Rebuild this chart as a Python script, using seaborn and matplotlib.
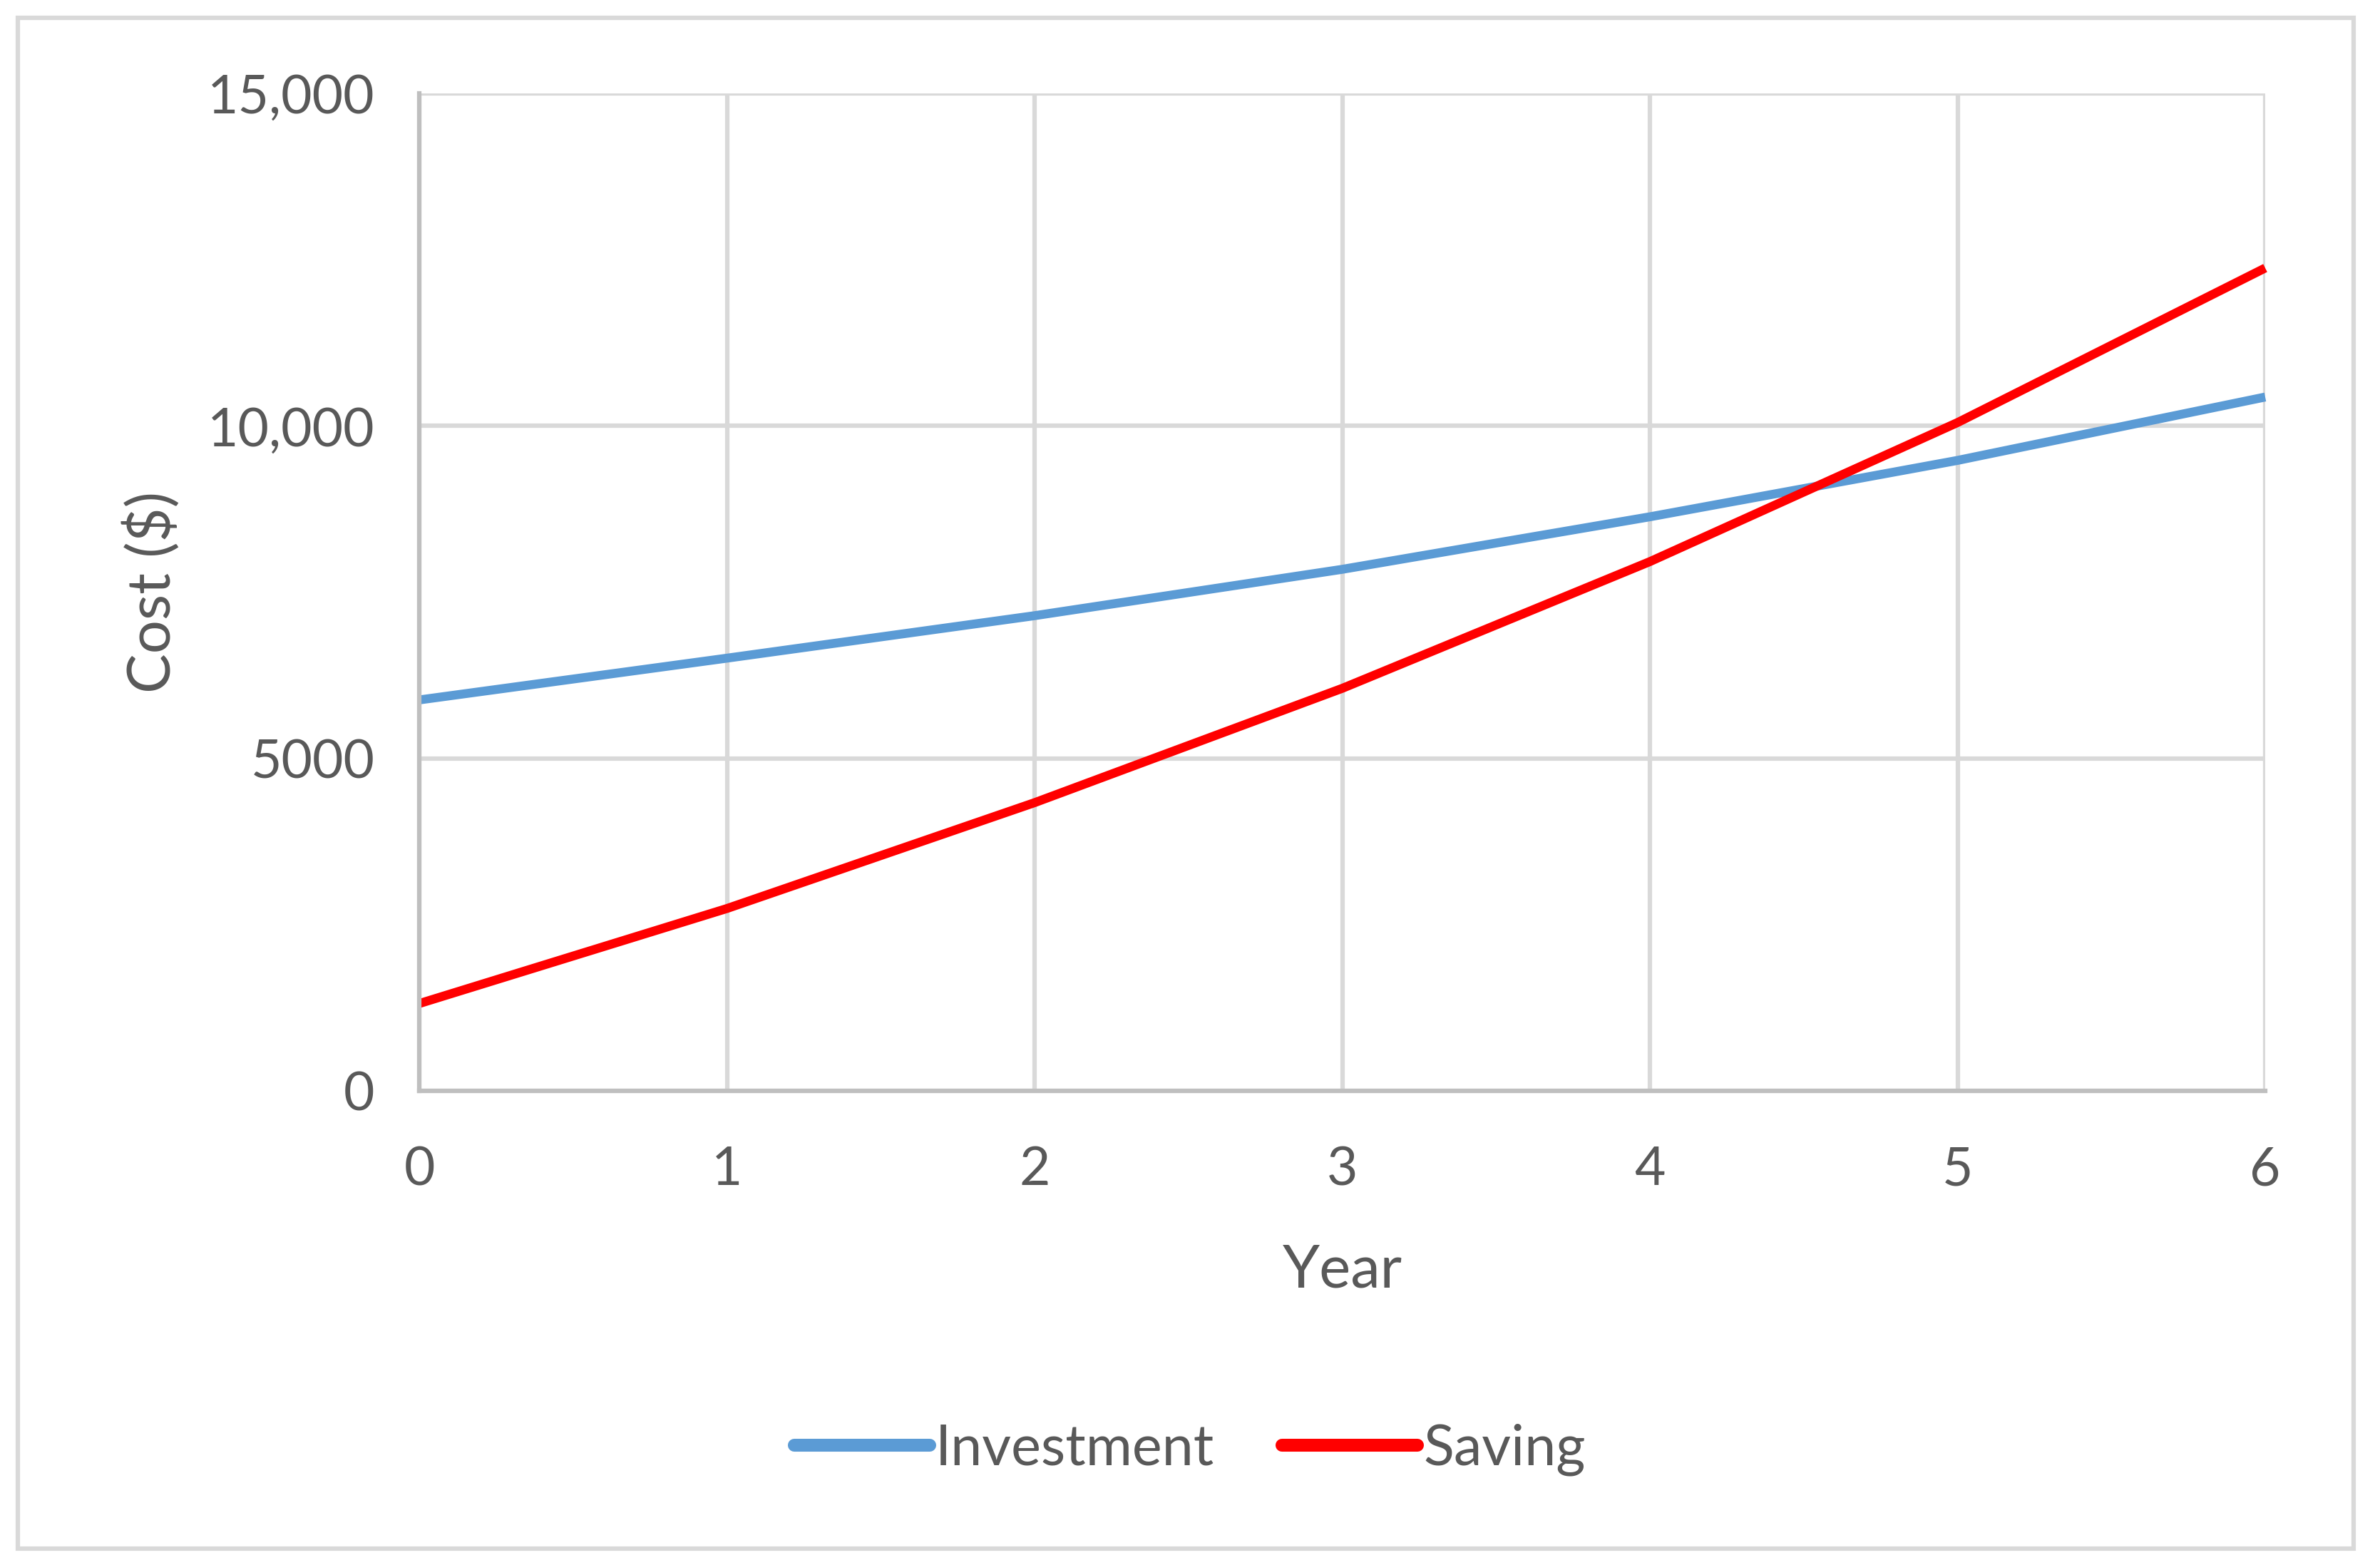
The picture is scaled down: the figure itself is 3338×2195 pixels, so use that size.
import matplotlib
matplotlib.use("Agg")
import matplotlib.pyplot as plt
import seaborn as sns
import pandas as pd
from matplotlib.patches import Rectangle
from matplotlib.lines import Line2D

years = [0, 1, 2, 3, 4, 5, 6]
investment = [5879, 6507, 7146, 7843, 8633, 9481, 10434]
saving = [1313, 2742, 4334, 6053, 7959, 10050, 12374]
series_names = ["Investment", "Saving"]
y_ticks = [0, 5000, 10000, 15000]
y_tick_labels = ["0", "5000", "10,000", "15,000"]

df = pd.DataFrame({
    "Year": years * 2,
    "Cost": investment + saving,
    "Series": [series_names[0]] * len(years) + [series_names[1]] * len(years),
})

sns.set_theme(style="white")
plt.rcParams["font.family"] = ["Lato", "DejaVu Sans"]

W, H = 3338, 2195
fig = plt.figure(figsize=(W / 100, H / 100), dpi=100)
ax = fig.add_axes([588 / W, 1 - 1530 / H, (3177 - 588) / W, (1530 - 131) / H])

palette = {"Investment": "#5b9bd5", "Saving": "#ff0000"}
sns.lineplot(data=df, x="Year", y="Cost", hue="Series", palette=palette,
             linewidth=9, ax=ax, legend=False)
for ln in ax.lines:
    ln.set_solid_capstyle("butt")
    ln.set_solid_joinstyle("round")
    ln.set_clip_on(False)

ax.set_xlim(0, 6)
ax.set_ylim(0, 15000)
ax.set_xticks(years)
ax.set_xticklabels([str(y) for y in years])
ax.set_yticks(y_ticks)
ax.set_yticklabels(y_tick_labels)

grid_c = "#d9d9d9"
ax.grid(True, color=grid_c, linewidth=4.5)
ax.set_axisbelow(True)
for s in ["top", "right"]:
    ax.spines[s].set_visible(False)
for s in ["left", "bottom"]:
    ax.spines[s].set_color("#bfbfbf")
    ax.spines[s].set_linewidth(4.5)

tc = "#595959"
ax.tick_params(axis="both", length=0, labelsize=54, labelcolor=tc)
ax.tick_params(axis="x", pad=55)
ax.tick_params(axis="y", pad=45)

ax.set_xlabel("Year", fontsize=60, color=tc, va="center")
ax.set_ylabel("Cost ($)", fontsize=60, color=tc, va="center")
ax.xaxis.set_label_coords(0.5, -(1782 - 1530) / (1530 - 131))
ax.yaxis.set_label_coords(-(588 - 213) / (3177 - 588), 0.5)

handles = [Line2D([], [], color=palette[n], linewidth=13, solid_capstyle="round") for n in series_names]
fig.legend(handles, series_names, loc="center", bbox_to_anchor=(0.5, 1 - 2033 / H),
           ncol=2, frameon=False, fontsize=57, handlelength=2.4, handletextpad=0.1,
           columnspacing=1.2, labelcolor=tc)

fig.patches.append(Rectangle((25 / W, 1 - 2172 / H), (3301 - 25) / W, (2172 - 25) / H,
                             transform=fig.transFigure, fill=False, edgecolor=grid_c,
                             linewidth=4.5))

fig.savefig("out.png", dpi=100, facecolor="white")
